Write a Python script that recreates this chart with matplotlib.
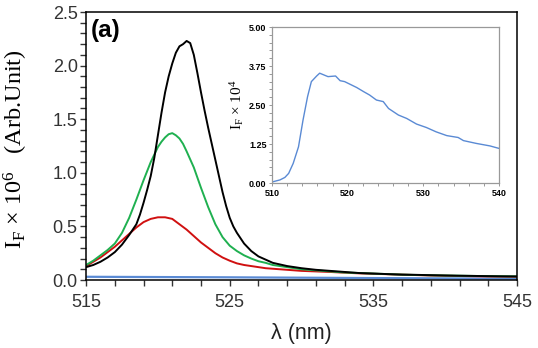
import matplotlib
matplotlib.use("Agg")
import matplotlib.pyplot as plt
from matplotlib.ticker import MultipleLocator, FixedLocator, FormatStrFormatter

plt.rcParams['mathtext.fontset'] = 'custom'
plt.rcParams['mathtext.rm'] = 'Liberation Serif'
plt.rcParams['mathtext.it'] = 'Liberation Serif:italic'
plt.rcParams['font.family'] = ['Liberation Sans', 'DejaVu Sans']

# Main chart data
black_wl = [515, 515.5, 516, 516.5, 517, 517.5, 518, 518.5, 518.75, 519, 519.25, 519.5,
            519.75, 520, 520.25, 520.5, 520.75, 521, 521.25, 521.5, 521.75, 522,
            522.25, 522.5, 522.75, 523, 523.25, 523.5, 523.75, 524, 524.25, 524.5,
            524.75, 525, 525.25, 525.5, 526, 526.5, 527, 527.5, 528, 528.5, 529,
            529.5, 530, 531, 532, 533, 534, 535, 536, 537, 538, 539, 540, 541, 542,
            543, 544, 545]
black = [0.12, 0.14, 0.17, 0.21, 0.26, 0.33, 0.42, 0.52, 0.61, 0.72, 0.84, 0.97,
         1.14, 1.35, 1.56, 1.75, 1.90, 2.02, 2.12, 2.18, 2.20, 2.23,
         2.21, 2.10, 1.93, 1.75, 1.58, 1.42, 1.27, 1.12, 0.97, 0.82,
         0.69, 0.58, 0.50, 0.44, 0.34, 0.27, 0.22, 0.19, 0.16, 0.145, 0.13,
         0.12, 0.11, 0.095, 0.085, 0.075, 0.065, 0.06, 0.055, 0.05, 0.048, 0.045, 0.042, 0.04, 0.038,
         0.036, 0.034, 0.033]
green_wl = [515, 515.5, 516, 516.5, 517, 517.5, 518, 518.5, 519, 519.5, 520, 520.25,
            520.5, 520.75, 521, 521.25, 521.5, 521.75, 522, 522.5, 523, 523.5, 524,
            524.5, 525, 525.5, 526, 526.5, 527, 527.5, 528, 528.5, 529, 529.5, 530,
            531, 532, 533, 534, 535, 536, 537, 538, 539, 540, 541, 542, 543, 544, 545]
green = [0.14, 0.18, 0.23, 0.28, 0.34, 0.44, 0.58, 0.75, 0.93, 1.10, 1.24, 1.29,
         1.33, 1.36, 1.37, 1.35, 1.32, 1.27, 1.20, 1.05, 0.86, 0.68, 0.52,
         0.40, 0.32, 0.27, 0.23, 0.20, 0.175, 0.16, 0.14, 0.13, 0.12, 0.11, 0.10,
         0.09, 0.08, 0.07, 0.065, 0.06, 0.055, 0.05, 0.047, 0.044, 0.042, 0.04, 0.038, 0.036, 0.035, 0.034]
red_wl = [515, 515.5, 516, 516.5, 517, 517.5, 518, 518.5, 519, 519.5, 520, 520.5,
          521, 521.5, 522, 522.5, 523, 523.5, 524, 524.5, 525, 525.5, 526, 526.5,
          527, 527.5, 528, 528.5, 529, 529.5, 530, 531, 532, 533, 534, 535, 536,
          537, 538, 539, 540, 541, 542, 543, 544, 545]
red = [0.13, 0.17, 0.21, 0.26, 0.31, 0.37, 0.43, 0.49, 0.54, 0.57, 0.585, 0.585,
       0.57, 0.52, 0.47, 0.41, 0.35, 0.30, 0.25, 0.21, 0.18, 0.155, 0.14, 0.13,
       0.12, 0.11, 0.105, 0.10, 0.095, 0.09, 0.085, 0.08, 0.075, 0.068, 0.062, 0.058, 0.054,
       0.05, 0.046, 0.042, 0.04, 0.037, 0.035, 0.033, 0.032, 0.03]
blue_wl = [515, 525, 535, 545]
blue = [0.03, 0.025, 0.018, 0.012]

# Inset data
in_wl = [510.1, 511.05, 511.7, 512.2, 512.8, 513.5, 514.1, 514.7, 515.2, 515.9,
         516.3, 517.4, 518.4, 519.0, 519.6, 521.2, 522.1, 522.9, 523.8, 524.7,
         525.4, 526.7, 527.8, 529.1, 530.4, 531.7, 533.1, 534.6, 535.3, 537.0,
         538.8, 540.0]
in_val = [0.04, 0.10, 0.18, 0.31, 0.63, 1.16, 2.02, 2.77, 3.25, 3.43,
          3.52, 3.41, 3.43, 3.28, 3.25, 3.06, 2.93, 2.82, 2.66, 2.61,
          2.39, 2.18, 2.07, 1.89, 1.78, 1.64, 1.52, 1.46, 1.36, 1.27,
          1.19, 1.11]

main_xticks = [515, 525, 535, 545]
inset_xticks = [510, 520, 530, 540]
inset_yticks = [0.00, 1.25, 2.50, 3.75, 5.00]

fig = plt.figure(figsize=(5.38, 3.48), dpi=100)
ax = fig.add_axes([0.16, 0.1954, 0.801, 0.7701])

ax.plot(blue_wl, blue, color='#5a8ad4', lw=1.6)
ax.plot(red_wl, red, color='#d01010', lw=1.4)
ax.plot(green_wl, green, color='#1fb050', lw=1.4)
ax.plot(black_wl, black, color='black', lw=1.4)

ax.set_xlim(515, 545)
ax.set_ylim(0, 2.5)
ax.xaxis.set_major_locator(FixedLocator(main_xticks))
ax.xaxis.set_minor_locator(MultipleLocator(2, offset=1))
ax.yaxis.set_major_locator(MultipleLocator(0.5))
ax.yaxis.set_minor_locator(MultipleLocator(0.1))
ax.yaxis.set_major_formatter(FormatStrFormatter('%.1f'))
ax.tick_params(which='both', direction='out', length=4, width=1, labelsize=13,
               top=False, right=False, color='#333333', labelcolor='#333333')
ax.tick_params(axis='x', pad=6)
ax.tick_params(axis='y', pad=2)
for s in ax.spines.values():
    s.set_linewidth(1.1)

ax.set_xlabel('λ (nm)', fontsize=15.5, labelpad=9, color='#222222')
ax.set_ylabel(r'I$_\mathrm{F}$ × 10$^6$   (Arb.Unit)', fontsize=17.5,
              family=['Liberation Serif', 'DejaVu Serif'])
ax.yaxis.set_label_coords(-0.13, 0.49)
ax.text(0.010, 0.975, '(a)', transform=ax.transAxes, fontsize=17.5, fontweight='bold',
        va='top', ha='left')

# Inset
ai = fig.add_axes([0.5056, 0.474, 0.4219, 0.4484])
ai.plot(in_wl, in_val, color='#5a8ad4', lw=1.0)
ai.set_xlim(510, 540)
ai.set_ylim(0, 5)
ai.xaxis.set_major_locator(FixedLocator(inset_xticks))
ai.xaxis.set_minor_locator(MultipleLocator(2))
ai.yaxis.set_major_locator(FixedLocator(inset_yticks))
ai.yaxis.set_minor_locator(MultipleLocator(0.25))
ai.yaxis.set_major_formatter(FormatStrFormatter('%.2f'))
ai.tick_params(which='both', direction='out', length=2, width=0.6, color='#888888',
               labelsize=6.5, pad=2)
for lab in ai.get_xticklabels() + ai.get_yticklabels():
    lab.set_fontweight('bold')
for s in ai.spines.values():
    s.set_color('#999999')
    s.set_linewidth(0.9)
ai.set_ylabel(r'I$_\mathrm{F}$ × 10$^4$', fontsize=11,
              family=['Liberation Serif', 'DejaVu Serif'], labelpad=2)

fig.savefig('out.png', dpi=100)
